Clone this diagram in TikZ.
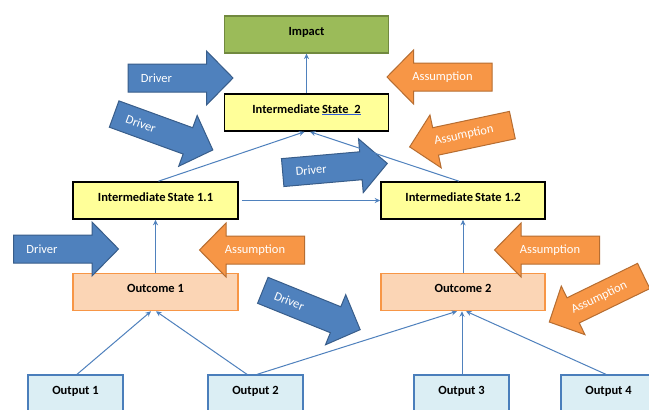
\documentclass[tikz,border=0pt]{standalone}
\usepackage{fontspec}
\setmainfont{Carlito}
\usetikzlibrary{arrows.meta,calc}
\definecolor{drvfill}{HTML}{4F81BD}
\definecolor{drvline}{HTML}{385D8A}
\definecolor{asmfill}{HTML}{F79646}
\definecolor{asmline}{HTML}{B66D31}
\definecolor{impfill}{HTML}{9BBB59}
\definecolor{impline}{HTML}{71893F}
\definecolor{isfill}{HTML}{FFFF99}
\definecolor{ocfill}{HTML}{FBD5B5}
\definecolor{ocline}{HTML}{F79646}
\definecolor{opfill}{HTML}{DBEEF4}
\definecolor{opline}{HTML}{4A7EBB}
\definecolor{connblue}{HTML}{4F81BD}
\definecolor{ulblue}{HTML}{2E5BD8}
\begin{document}
\begin{tikzpicture}[x=1pt,y=-1pt,
  box/.style={minimum width=164pt,minimum height=37pt,inner sep=0pt,text height=6pt,text depth=5pt,font=\fontsize{12.5}{14}\selectfont\bfseries},
  impactbox/.style={box,draw=impline,fill=impfill,line width=1.2pt},
  isbox/.style={box,draw=black,fill=isfill,line width=1.6pt},
  ocbox/.style={box,draw=ocline,fill=ocfill,line width=1.5pt},
  opbox/.style={box,minimum width=95pt,draw=opline,fill=opfill,line width=1.3pt},
  conn/.style={draw=connblue,line width=1pt,-{Stealth[length=5.5pt,width=5pt]}},
  arrowtext/.style={text=white,font=\fontsize{12.5}{14}\selectfont,inner sep=0pt,transform shape},
  drvarrow/.style={fill=drvfill,draw=drvline,line width=1pt,line join=miter},
  asmarrow/.style={fill=asmfill,draw=asmline,line width=1pt,line join=miter},
  rarrow/.pic={\path[drvarrow] (-52.5,-14) -- (26,-14) -- (26,-27) -- (52.5,0) -- (26,27) -- (26,14) -- (-52.5,14) -- cycle;
    \node[arrowtext] (-t) at (-24,0) {#1};},
  larrow/.pic={\path[asmarrow] (52.5,-14) -- (-26,-14) -- (-26,-27) -- (-52.5,0) -- (-26,27) -- (-26,14) -- (52.5,14) -- cycle;
    \node[arrowtext] (-t) at (3,0) {#1};}
]
\useasboundingbox (0,0) rectangle (649,410);
\clip (0,0) rectangle (649,410);
\fill[white] (0,0) rectangle (649,410);

% boxes
\node[impactbox] (impact) at (306.5,34.5) {Impact};
\node[isbox] (is2) at (306.5,112.5) {Intermediate\,\textcolor{ulblue}{\underline{\textcolor{black}{State\ \ 2}}}};
\node[isbox,minimum width=165pt] (is11) at (155.5,200.5) {Intermediate\,State 1.1};
\node[isbox] (is12) at (463,200.5) {Intermediate\,State 1.2};
\node[ocbox,minimum width=165pt] (oc1) at (155.5,292) {Outcome 1};
\node[ocbox] (oc2) at (463,292) {Outcome 2};
\node[opbox] (op1) at (75.5,393.5) {Output 1};
\node[opbox] (op2) at (255.5,393.5) {Output 2};
\node[opbox] (op3) at (461.5,393.5) {Output 3};
\node[opbox] (op4) at (608.5,393.5) {Output 4};

% block arrows
\pic (d1) at (180.5,78) {rarrow=Driver};
\pic (a1) at (439.5,77) {larrow=Assumption};
\pic[rotate=-20] (d2) at (163.5,132) {rarrow=Driver};
\pic[rotate=12] (a2) at (461,136) {larrow=Assumption};
\pic[rotate=5] (d3) at (335,168) {rarrow=Driver};
\pic (d4) at (66,249) {rarrow=Driver};
\pic (a3) at (252,250) {larrow=Assumption};
\pic (a4) at (547,250) {larrow=Assumption};
\pic[rotate=-22] (d5) at (311.5,310) {rarrow=Driver};
\pic[rotate=26] (a5) at (596.5,299) {larrow=Assumption};

% connectors
\draw[conn] (is2) -- (impact);
\draw[conn] ([xshift=3pt]is11.north) -- ([xshift=-2pt]is2.south);
\draw[conn] ([xshift=-4pt]is12.north) -- ([xshift=3.5pt]is2.south);
\draw[conn,shorten <=3pt] (is11.east) -- (is12.west);
\draw[conn] (oc1.north) -- (is11.south);
\draw[conn] (oc2.north) -- (is12.south);
\draw[conn] ([xshift=1.5pt]op1.north) -- ([xshift=-4.5pt]oc1.south);
\draw[conn] ([xshift=-8.5pt]op2.north) -- ([xshift=0.5pt]oc1.south);
\draw[conn] ([xshift=1.5pt]op2.north) -- ([xshift=-6pt]oc2.south);
\draw[conn] ([xshift=0.5pt]op3.north) -- ([xshift=-1pt]oc2.south);
\draw[conn] ([xshift=-2.5pt]op4.north) -- ([xshift=3pt]oc2.south);
\end{tikzpicture}
\end{document}
